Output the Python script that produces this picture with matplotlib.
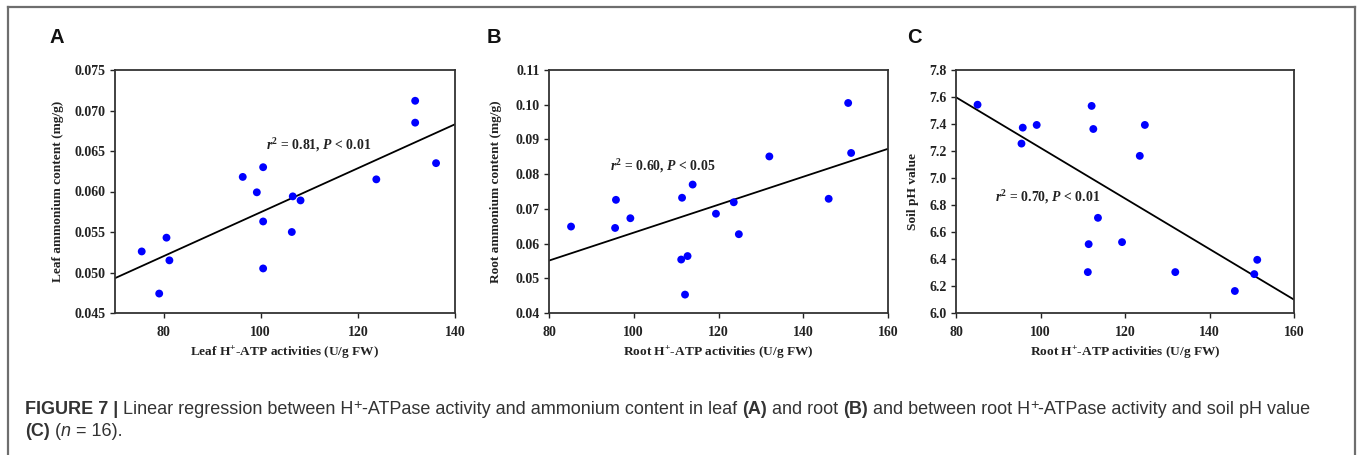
import matplotlib
matplotlib.use("Agg")
import matplotlib.pyplot as plt
from matplotlib.lines import Line2D
import numpy as np

# ---------------- data ----------------
leaf_atp = [75.5, 79.1, 80.6, 81.2, 96.3, 99.2, 100.5, 100.5, 100.5, 106.4, 106.6, 108.2, 123.8, 131.8, 131.8, 136.1]
leaf_nh4 = [0.0526, 0.0474, 0.0543, 0.0515, 0.0618, 0.0599, 0.0630, 0.0563, 0.0505, 0.0550, 0.0594, 0.0589, 0.0615, 0.0712, 0.0685, 0.0635]
leaf_fit_x = [70, 140]
leaf_fit_y = [0.0493, 0.0683]

root_atp_b = [85.2, 95.6, 95.8, 99.2, 111.2, 111.4, 112.1, 112.7, 113.9, 119.4, 123.6, 124.8, 132.0, 146.0, 150.6, 151.3]
root_nh4 = [0.0649, 0.0645, 0.0726, 0.0673, 0.0554, 0.0732, 0.0453, 0.0564, 0.0770, 0.0686, 0.0719, 0.0627, 0.0851, 0.0729, 0.1005, 0.0861]
root_fit_x = [80, 160]
root_fit_y = [0.0551, 0.0873]

root_atp_c = [85.1, 95.5, 95.8, 99.1, 111.2, 111.4, 112.1, 112.5, 113.6, 119.3, 123.5, 124.7, 131.9, 146.0, 150.6, 151.3]
soil_ph = [7.543, 7.255, 7.373, 7.393, 6.303, 6.510, 7.534, 7.363, 6.705, 6.525, 7.164, 7.393, 6.303, 6.163, 6.288, 6.394]
ph_fit_x = [80, 160]
ph_fit_y = [7.598, 6.099]

panel_letters = ["A", "B", "C"]
x_labels = [r"Leaf H$^{+}$-ATP activities (U/g FW)",
            r"Root H$^{+}$-ATP activities (U/g FW)",
            r"Root H$^{+}$-ATP activities (U/g FW)"]
y_labels = ["Leaf ammonium content (mg/g)", "Root ammonium content (mg/g)", "Soil pH value"]
stat_texts = [r"$r^{2}$ = 0.81, $P$ < 0.01", r"$r^{2}$ = 0.60, $P$ < 0.05", r"$r^{2}$ = 0.70, $P$ < 0.01"]
stat_pos = [(101.0, 0.0657), (94.4, 0.0822), (89.2, 6.856)]
x_lims = [(70, 140), (80, 160), (80, 160)]
x_ticks = [[80, 100, 120, 140], [80, 100, 120, 140, 160], [80, 100, 120, 140, 160]]
y_lims = [(0.045, 0.075), (0.04, 0.11), (6.0, 7.8)]
y_ticks = [np.arange(0.045, 0.0751, 0.005), np.arange(0.04, 0.1101, 0.01), np.arange(6.0, 7.801, 0.2)]
y_fmt = ["{:.3f}", "{:.2f}", "{:.1f}"]

# ---------------- style ----------------
plt.rcParams["font.family"] = ["Liberation Serif", "DejaVu Serif"]
plt.rcParams["mathtext.fontset"] = "custom"
plt.rcParams["mathtext.rm"] = "Liberation Serif:bold"
plt.rcParams["mathtext.it"] = "Liberation Serif:bold:italic"
plt.rcParams["mathtext.bf"] = "Liberation Serif:bold"

W, H = 1357, 455
fig = plt.figure(figsize=(W / 100, H / 100), dpi=100)

axes_px = [(115, 455), (549, 888), (956, 1294)]
ax_top, ax_bot = 70, 313

datasets = [(leaf_atp, leaf_nh4, leaf_fit_x, leaf_fit_y),
            (root_atp_b, root_nh4, root_fit_x, root_fit_y),
            (root_atp_c, soil_ph, ph_fit_x, ph_fit_y)]

letter_x = [49, 487, 907]
ylabel_x = [64, 502, 919]
txt_col = "#222222"

for i, (l, r) in enumerate(axes_px):
    ax = fig.add_axes([l / W, (H - ax_bot) / H, (r - l) / W, (ax_bot - ax_top) / H])
    xs, ys, fx, fy = datasets[i]
    ax.plot(fx, fy, color="black", lw=1.3, zorder=2)
    ax.scatter(xs, ys, s=32, color="#0000ff", edgecolors="none", zorder=3)
    ax.set_xlim(*x_lims[i])
    ax.set_ylim(*y_lims[i])
    ax.set_xticks(x_ticks[i])
    ax.set_xticklabels([str(t) for t in x_ticks[i]], fontsize=10, fontweight="bold")
    ax.set_yticks(y_ticks[i])
    ax.set_yticklabels([y_fmt[i].format(t) for t in y_ticks[i]], fontsize=10, fontweight="bold")
    ax.tick_params(direction="out", length=3.6, width=1.0, colors=txt_col)
    ax.tick_params(axis="x", pad=6)
    ax.tick_params(axis="y", pad=3)
    for sp in ax.spines.values():
        sp.set_linewidth(1.3)
        sp.set_color("#333333")
    ax.set_xlabel(x_labels[i], fontsize=9.6, fontweight="bold", labelpad=4, color=txt_col)
    ax.set_ylabel(y_labels[i], fontsize=9.6, fontweight="bold", color=txt_col)
    ax.yaxis.set_label_coords((ylabel_x[i] - l) / (r - l), 0.5)
    sx, sy = stat_pos[i]
    ax.text(sx, sy, stat_texts[i], fontsize=9.9, fontweight="bold", ha="left", va="center", color=txt_col)
    fig.text(letter_x[i] / W, 1 - 43 / H, panel_letters[i], family=["Liberation Sans", "DejaVu Sans"],
             fontsize=14.5, fontweight="bold", va="baseline", ha="left", color="#111111")

# ---------------- frame ----------------
frame_col = "#6e6e6e"
fig.add_artist(Line2D([8 / W, 1355 / W], [1 - 7 / H, 1 - 7 / H], transform=fig.transFigure, color=frame_col, lw=1.6))
fig.add_artist(Line2D([8 / W, 8 / W], [1 - 7 / H, 0], transform=fig.transFigure, color=frame_col, lw=1.6))
fig.add_artist(Line2D([1355 / W, 1355 / W], [1 - 7 / H, 0], transform=fig.transFigure, color=frame_col, lw=1.6))

# ---------------- caption ----------------
cap_family = ["Liberation Sans", "DejaVu Sans"]
cap_size = 13.0
cap_col = "#333333"
line1 = [("FIGURE 7 | ", "bold", "normal", 1.0, 0),
         ("Linear regression between H", "normal", "normal", 1.0, 0),
         ("+", "normal", "normal", 0.8, 5),
         ("-ATPase activity and ammonium content in leaf ", "normal", "normal", 1.0, 0),
         ("(A)", "bold", "normal", 1.0, 0),
         (" and root ", "normal", "normal", 1.0, 0),
         ("(B)", "bold", "normal", 1.0, 0),
         (" and between root H", "normal", "normal", 1.0, 0),
         ("+", "normal", "normal", 0.8, 5),
         ("-ATPase activity and soil pH value", "normal", "normal", 1.0, 0)]
line2 = [("(C)", "bold", "normal", 1.0, 0),
         (" (", "normal", "normal", 1.0, 0),
         ("n", "normal", "italic", 1.0, 0),
         (" = 16).", "normal", "normal", 1.0, 0)]

renderer = fig.canvas.get_renderer()


def draw_line(pieces, x0, ybase):
    x = x0
    for s, wt, st, scale, dy in pieces:
        t = fig.text(x / W, 1 - (ybase - dy) / H, s.replace(" ", "\u00a0"), family=cap_family,
                     fontsize=cap_size * scale, fontweight=wt, fontstyle=st,
                     va="baseline", ha="left", color=cap_col)
        bb = t.get_window_extent(renderer)
        x += bb.width


draw_line(line1, 25, 414)
draw_line(line2, 25, 436)

fig.savefig("out.png", dpi=100)
